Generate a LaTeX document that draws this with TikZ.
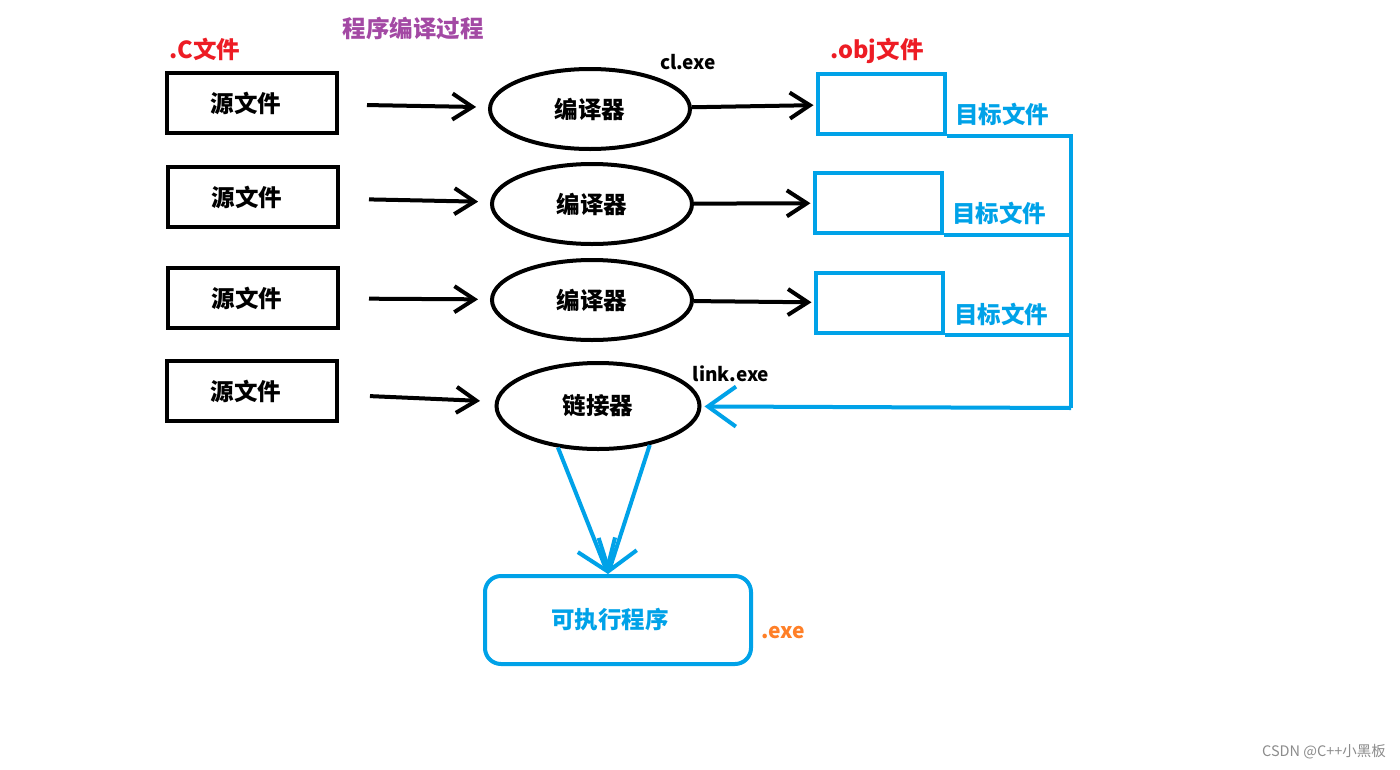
\documentclass[tikz,border=0pt]{standalone}
\usepackage{fontspec}
\setmainfont{Noto Sans CJK SC}
\usetikzlibrary{shapes.geometric,arrows.meta}
\definecolor{pblue}{RGB}{0,162,232}
\definecolor{pred}{RGB}{237,28,36}
\definecolor{ppurple}{RGB}{163,73,164}
\definecolor{porange}{RGB}{255,127,39}
\tikzset{
  big/.style={font=\bfseries\fontsize{23.5}{27}\selectfont},
  srcbox/.style={draw=black,line width=4pt,minimum width=170pt,minimum height=60pt,inner sep=0pt,big},
  ell/.style={draw=black,ellipse,line width=4pt,minimum width=200pt,minimum height=80pt,inner sep=0pt,big},
  objbox/.style={draw=pblue,line width=4pt,minimum width=127pt,minimum height=60pt,inner sep=0pt},
  exebox/.style={draw=pblue,line width=4pt,rounded corners=16pt,minimum width=266pt,minimum height=88pt,inner sep=0pt,big,text=pblue},
  karr/.style={draw=black,line width=4pt,-{Straight Barb[length=20pt,width=26pt]}},
  bline/.style={draw=pblue,line width=4pt},
  barr/.style={draw=pblue,line width=4pt,-{Straight Barb[length=28pt,width=40pt]}},
  lbl/.style={inner sep=0pt,big},
  sml/.style={inner sep=0pt,font=\bfseries\fontsize{19}{22}\selectfont},
}
\begin{document}
\begin{tikzpicture}[x=1pt,y=-1pt]
\fill[white] (0,0) rectangle (1400,769);
\useasboundingbox (0,0) rectangle (1400,769);

% titles
\node[lbl,text=pred] (ctitle) at (205,49) {.C文件};
\node[lbl,text=ppurple] (ptitle) at (413,29) {程序编译过程};
\node[sml] (cl) at (688,62) {cl.exe};
\node[lbl,text=pred] (objtitle) at (877,51) {.obj文件};
\node[sml] (link) at (731,374) {link.exe};

% source files
\node[srcbox] (s1) at (252,103) {源文件\hspace*{12pt}};
\node[srcbox] (s2) at (253,197) {源文件\hspace*{12pt}};
\node[srcbox] (s3) at (253,298) {源文件\hspace*{12pt}};
\node[srcbox] (s4) at (252,391) {源文件\hspace*{12pt}};

% compilers / linker
\node[ell] (e1) at (590,109) {编译器};
\node[ell] (e2) at (592,204) {编译器};
\node[ell] (e3) at (592,300) {编译器};
\node[ell,minimum width=203pt,minimum height=86pt] (l4) at (598,406) {链接器};

% object files
\node[objbox] (o1) at (881,104) {};
\node[objbox] (o2) at (878,203) {};
\node[objbox] (o3) at (879,303) {};
\node[lbl,text=pblue] (t1) at (1002,114) {目标文件};
\node[lbl,text=pblue] (t2) at (999,213) {目标文件};
\node[lbl,text=pblue] (t3) at (1001,314) {目标文件};

% executable
\node[exebox] (exe) at (618,620) {可执行程序\hspace*{16pt}};
\node[lbl,text=porange,font=\bfseries\fontsize{21}{24}\selectfont] (exet) at (783,633) {.exe};
\node[inner sep=0pt,text=black!45,font=\fontsize{14.5}{17}\selectfont] (wm) at (1324,752) {CSDN @C++小黑板};

% black arrows
\draw[karr,shorten <=28pt,shorten >=12pt] (s1) -- (e1);
\draw[karr,shorten <=29pt,shorten >=12pt] (s2) -- (e2);
\draw[karr,shorten <=29pt,shorten >=12pt] (s3) -- (e3);
\draw[karr,shorten <=31pt,shorten >=15pt] (s4) -- (l4);
\draw[karr,shorten >=2pt] (e1) -- (o1);
\draw[karr,shorten >=2pt] (e2) -- (o2);
\draw[karr,shorten >=2pt] (e3) -- (o3);

% blue bus
\coordinate (busTop) at (1071,132);
\coordinate (busBot) at (1071,408);
\draw[bline] (o1.south east) -- (o1.south east -| busTop) -- (busBot);
\draw[bline] (o2.south east) -- (o2.south east -| busTop);
\draw[bline] (o3.south east) -- (o3.south east -| busTop);
\draw[barr,shorten >=3pt] (busBot) -- (l4);

% linker to executable
\coordinate (meet) at (608,574);
\draw[barr] (l4.-134) -- (meet);
\draw[barr] (l4.-37) -- (meet);
\end{tikzpicture}
\end{document}
